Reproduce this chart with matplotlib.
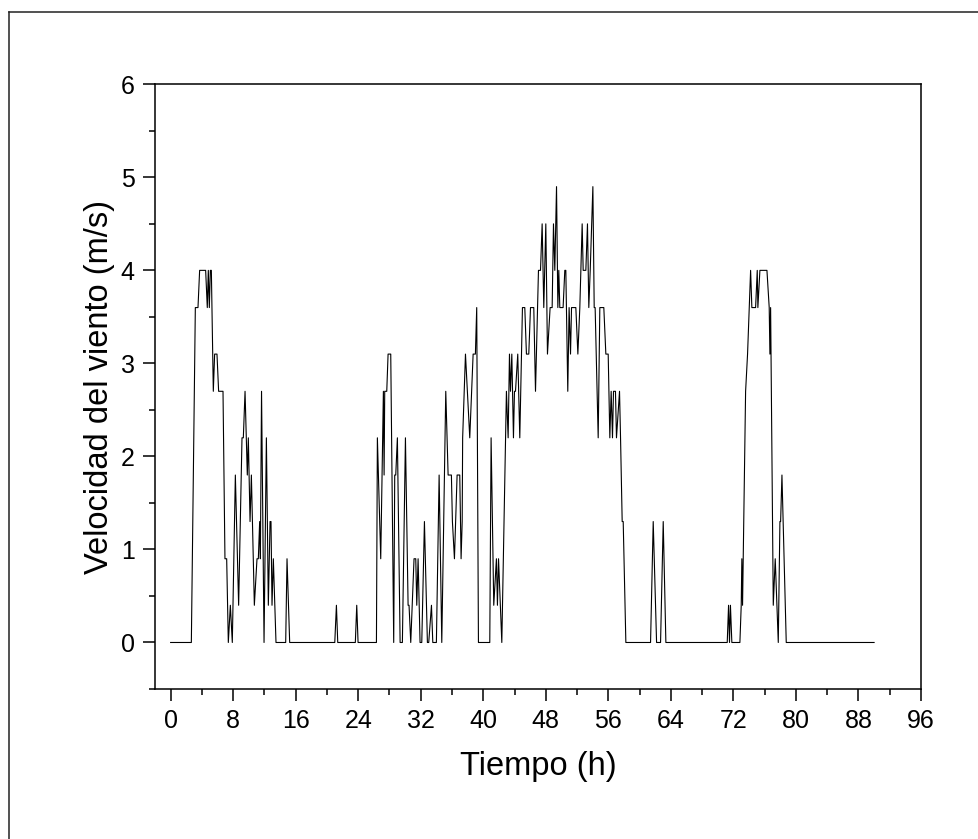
#!/usr/bin/env python3
# -*- coding: utf-8 -*-

import numpy as np
import matplotlib
matplotlib.use("Agg")
import matplotlib.pyplot as plt
from matplotlib.lines import Line2D
from matplotlib.ticker import MultipleLocator

plt.rcParams['font.family'] = ['Liberation Sans', 'DejaVu Sans']

# vertices of the wind speed record
tiempo = [0, 2.65, 3.16, 3.5, 3.71, 4.48, 4.69, 4.82, 4.95, 5.08, 5.21, 5.46,
          5.63, 5.93, 6.14, 6.7, 6.95, 7.17, 7.38, 7.64, 7.89, 8.28, 8.7, 9.13,
          9.3, 9.52, 9.81, 9.94, 10.16, 10.33, 10.71, 11.05, 11.22, 11.39, 11.48,
          11.63, 11.95, 12.25, 12.5, 12.72, 12.84, 12.97, 13.14, 13.48, 14.72,
          14.89, 15.23, 21.0, 21.21, 21.38, 23.63, 23.81, 23.98, 26.33, 26.45,
          26.88, 27.22, 27.31, 27.39, 27.65, 27.82, 28.16, 28.54, 28.67, 28.8,
          29.01, 29.36, 29.65, 30.04, 30.38, 30.5, 30.72, 31.14, 31.36, 31.49,
          31.66, 31.91, 32.13, 32.47, 32.85, 33.02, 33.37, 33.54, 34.0, 34.35,
          34.69, 35.2, 35.5, 35.92, 36.05, 36.31, 36.65, 36.99, 37.16, 37.3,
          37.36, 37.72, 38.27, 38.7, 38.99, 39.16, 39.38, 40.83, 41.0, 41.34,
          41.68, 41.81, 41.95, 42.37, 42.96, 43.18, 43.35, 43.48, 43.65, 43.86,
          43.99, 44.12, 44.41, 44.67, 45.01, 45.31, 45.52, 45.82, 46.04, 46.46,
          46.68, 47.06, 47.32, 47.53, 47.74, 48.0, 48.21, 48.55, 48.81, 48.98,
          49.15, 49.37, 49.54, 49.66, 49.79, 50.21, 50.43, 50.56, 50.81, 50.98,
          51.16, 51.29, 51.84, 52.1, 52.35, 52.65, 52.78, 53.12, 53.33, 53.5,
          53.68, 54.02, 54.19, 54.31, 54.7, 54.91, 55.42, 55.68, 55.98, 56.19,
          56.36, 56.53, 56.66, 56.91, 57.04, 57.43, 57.56, 57.77, 57.9, 58.24,
          61.4, 61.74, 62.17, 62.68, 63.02, 63.36, 71.21, 71.38, 71.5, 71.62,
          71.8, 72.83, 73.0, 73.08, 73.17, 73.56, 73.81, 74.2, 74.36, 74.84,
          75.05, 75.13, 75.39, 76.29, 76.58, 76.67, 76.76, 77.1, 77.35, 77.74,
          77.95, 78.04, 78.21, 78.76, 90.0]
velocidad = [0, 0, 3.6, 3.6, 4.0, 4.0, 3.6, 4.0, 3.6, 4.0, 4.0, 2.7,
             3.1, 3.1, 2.7, 2.7, 0.9, 0.9, 0, 0.4, 0, 1.8, 0.4, 2.2,
             2.2, 2.7, 1.8, 2.2, 1.3, 1.8, 0.4, 0.9, 0.9, 1.3, 0.9,
             2.7, 0, 2.2, 0.4, 1.3, 1.3, 0.4, 0.9, 0, 0,
             0.9, 0, 0, 0.4, 0, 0, 0.4, 0, 0, 2.2,
             0.9, 2.7, 1.8, 2.7, 2.7, 3.1, 3.1, 0, 1.8, 1.8,
             2.2, 0, 0, 2.2, 0.4, 0.4, 0, 0.9, 0.9, 0.4,
             0.9, 0, 0, 1.3, 0, 0, 0.4, 0, 0, 1.8,
             0, 2.7, 1.8, 1.8, 1.3, 0.9, 1.8, 1.8, 0.9, 1.3,
             2.2, 3.1, 2.2, 3.1, 3.1, 3.6, 0, 0, 2.2, 0.4,
             0.9, 0.4, 0.9, 0, 2.7, 2.2, 3.1, 2.7, 3.1, 2.2,
             2.7, 2.7, 3.1, 2.2, 3.6, 3.6, 3.1, 3.1, 3.6, 3.6,
             2.7, 4.0, 4.0, 4.5, 3.6, 4.5, 3.1, 3.6, 3.6, 4.5,
             4.0, 4.9, 3.6, 4.0, 3.6, 3.6, 4.0, 4.0, 2.7, 3.6,
             3.1, 3.6, 3.6, 3.1, 3.6, 4.5, 4.0, 4.0, 4.5, 3.6,
             4.0, 4.9, 3.6, 3.6, 2.2, 3.6, 3.6, 3.1, 3.1, 2.2,
             2.7, 2.2, 2.7, 2.7, 2.2, 2.7, 2.2, 1.3, 1.3, 0,
             0, 1.3, 0, 0, 1.3, 0, 0, 0.4, 0, 0.4,
             0, 0, 0.4, 0.9, 0.4, 2.7, 3.1, 4.0, 3.6, 3.6,
             4.0, 3.6, 4.0, 4.0, 3.6, 3.1, 3.6, 0.4, 0.9, 0,
             1.3, 1.3, 1.8, 0, 0]

xticks = np.arange(0, 97, 8)
yticks = np.arange(0, 7, 1)

#canvas
fig = plt.figure(figsize=(9.79, 8.39), dpi=100, facecolor="white")

#frame around the figure (only left and top edges are visible)
fig.add_artist(Line2D([9/979, 9/979], [0, 1 - 12/839], transform=fig.transFigure,
                      color='#222222', lw=1.1))
fig.add_artist(Line2D([9/979, 1], [1 - 12/839, 1 - 12/839], transform=fig.transFigure,
                      color='#222222', lw=1.1))

#axes
ax = fig.add_axes([155/979, 150/839, 766/979, 604.7/839])
ax.plot(tiempo, velocidad, color='black', lw=0.8)

ax.set_xlim(-2, 96)
ax.set_ylim(-0.5, 6)
ax.set_xticks(xticks)
ax.set_yticks(yticks)
ax.xaxis.set_minor_locator(MultipleLocator(4))
ax.yaxis.set_minor_locator(MultipleLocator(0.5))

for s in ax.spines.values():
    s.set_linewidth(1.1)

ax.tick_params(which='major', direction='out', length=8.6, width=1.1,
               labelsize=18, pad=6)
ax.tick_params(which='minor', direction='out', length=4.3, width=1.1)

ax.set_xlabel("Tiempo (h)", fontsize=23.5, labelpad=13)
ax.set_ylabel("Velocidad del viento (m/s)", fontsize=23.5, labelpad=4)

fig.savefig("out.png", dpi=100)
